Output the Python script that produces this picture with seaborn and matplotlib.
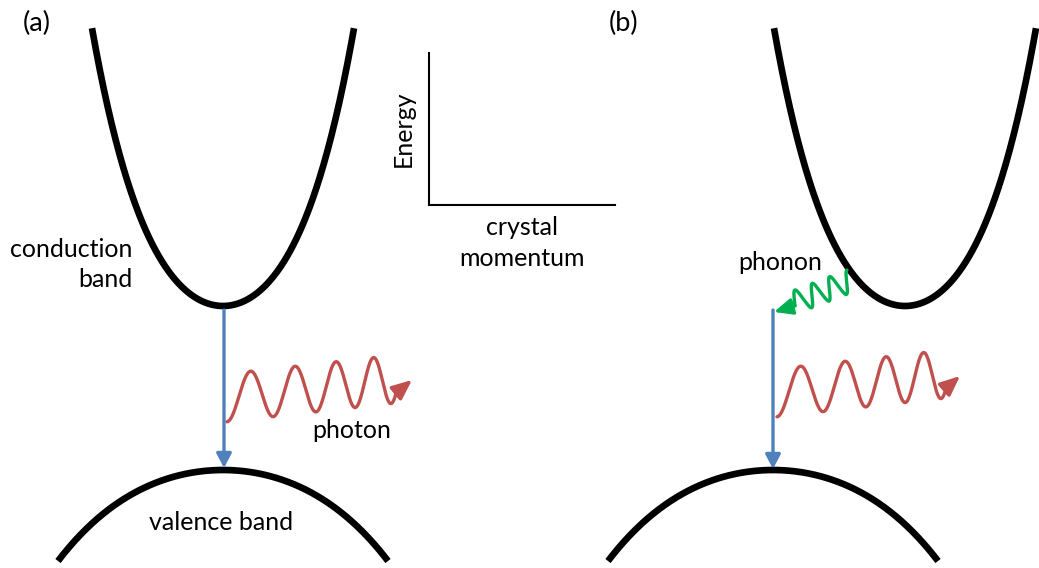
import numpy as np
import matplotlib
matplotlib.use("Agg")
import matplotlib.pyplot as plt
import seaborn as sns

# ---------------- data (pixel coordinate frame of the 1039x568 canvas) ----------------
W, H = 1039, 568

panel_labels = ["(a)", "(b)"]
panel_label_x = [37, 624]
panel_label_y = [23, 23]

# band model: y = y0 -/+ (a*dx^2 + b*dx^4), |dx| <= half width
cb_x0 = [223, 905]          # conduction-band minimum
cb_y0 = [306, 306]
cb_half = [131, 131]
cb_coef = [0.0108, 3.14e-7]
vb_x0 = [223, 773]          # valence-band maximum
vb_y0 = [470, 470]
vb_half = [165, 165]
vb_coef = [0.00272, 2.29e-8]

# vertical (blue) transition arrows
trans_x = [224, 773]
trans_top = [310, 310]
trans_tip = [468, 469]

# photon wave (red)
photon_x0 = [227, 777]
photon_mid0 = [397.8, 392.8]
photon_slope = -0.111
photon_amp = 24
photon_half_start, photon_half_end = 24, 17
photon_halves = 8
photon_tip_x = [412, 960]
photon_tip_y = [380, 376]

# phonon wave (green), panel (b)
phonon_start = (847, 270)
phonon_angle_deg = 21
phonon_period = 18.6
phonon_amp = 11.3
phonon_halves = 6.6
phonon_tip = (774, 312)

# energy / momentum key axes
key_left, key_right, key_top, key_bottom = 429, 615, 53, 205

texts = ["conduction", "band", "photon", "valence band", "phonon"]
text_x = [132, 132, 352, 221, 780]
text_y = [257, 287, 438, 530, 270]
text_ha = ["right", "right", "center", "center", "center"]

BLACK = "#000000"
BLUE = "#4F81BD"
RED = "#C0504D"
GREEN = "#00B050"
FS = 18

# ---------------- style ----------------
sns.set_theme(style="white")
plt.rcParams["font.family"] = ["Lato", "DejaVu Sans"]

fig = plt.figure(figsize=(W / 100, H / 100), dpi=100)
ax = fig.add_axes([0, 0, 1, 1])
ax.set_xlim(0, W)
ax.set_ylim(H, 0)
ax.axis("off")

def band(x0, y0, half, coef, sign):
    dx = np.linspace(-half, half, 400)
    return x0 + dx, y0 + sign * (coef[0] * dx ** 2 + coef[1] * dx ** 4)

for i in range(2):
    x, y = band(cb_x0[i], cb_y0[i], cb_half[i], cb_coef, -1)
    sns.lineplot(x=x, y=y, ax=ax, color=BLACK, linewidth=4.8, sort=False,
                 estimator=None, solid_capstyle="butt")
    x, y = band(vb_x0[i], vb_y0[i], vb_half[i], vb_coef, +1)
    sns.lineplot(x=x, y=y, ax=ax, color=BLACK, linewidth=4.8, sort=False,
                 estimator=None, solid_capstyle="butt")

    # blue transition
    ax.annotate("", xy=(trans_x[i], trans_tip[i]), xytext=(trans_x[i], trans_top[i]),
                arrowprops=dict(arrowstyle="-|>,head_length=8.6,head_width=4.5",
                                mutation_scale=1, color=BLUE, lw=2.4,
                                shrinkA=0, shrinkB=0))

    # photon
    u = np.linspace(0, photon_halves + 0.3, 400)
    k = (photon_half_end - photon_half_start) / (2 * photon_halves)
    px = photon_x0[i] + photon_half_start * u + k * u ** 2
    py = photon_mid0[i] + photon_slope * (px - photon_x0[i]) + photon_amp * np.cos(np.pi * u)
    sns.lineplot(x=px, y=py, ax=ax, color=RED, linewidth=2.4, sort=False, estimator=None)
    ax.annotate("", xy=(photon_tip_x[i], photon_tip_y[i]), xytext=(px[-1], py[-1]),
                arrowprops=dict(arrowstyle="-|>,head_length=12,head_width=5.2",
                                mutation_scale=1, color=RED, lw=2.4,
                                shrinkA=0, shrinkB=0))

    ax.text(panel_label_x[i], panel_label_y[i], panel_labels[i], fontsize=19.5,
            ha="center", va="center", color="black")

# phonon
th = np.deg2rad(phonon_angle_deg)
d = np.array([-np.cos(th), np.sin(th)])
n = np.array([np.sin(th), np.cos(th)])
S = np.array(phonon_start) + phonon_amp * n
u = np.linspace(0, phonon_halves, 300)
s = u * phonon_period / 2
pts = S[None, :] + s[:, None] * d[None, :] - (phonon_amp * np.cos(np.pi * u))[:, None] * n[None, :]
sns.lineplot(x=pts[:, 0], y=pts[:, 1], ax=ax, color=GREEN, linewidth=2.4, sort=False, estimator=None)
ax.annotate("", xy=phonon_tip, xytext=(pts[-1, 0], pts[-1, 1]),
            arrowprops=dict(arrowstyle="-|>,head_length=11,head_width=4.9",
                            mutation_scale=1, color=GREEN, lw=2.4,
                            shrinkA=0, shrinkB=0))

for t, x, y, ha in zip(texts, text_x, text_y, text_ha):
    ax.text(x, y, t, fontsize=FS, ha=ha, va="baseline", color="black")

# key axes
kax = fig.add_axes([key_left / W, 1 - key_bottom / H,
                    (key_right - key_left) / W, (key_bottom - key_top) / H])
kax.set_facecolor("none")
sns.despine(ax=kax)
for sp in ("left", "bottom"):
    kax.spines[sp].set_color("black")
    kax.spines[sp].set_linewidth(1.5)
kax.set_xticks([])
kax.set_yticks([])
kax.set_ylabel("Energy", fontsize=FS, color="black", labelpad=10)
kax.set_xlabel("crystal\nmomentum", fontsize=FS, color="black", labelpad=8, linespacing=1.4)

fig.savefig("out.png", dpi=100, facecolor="white")
